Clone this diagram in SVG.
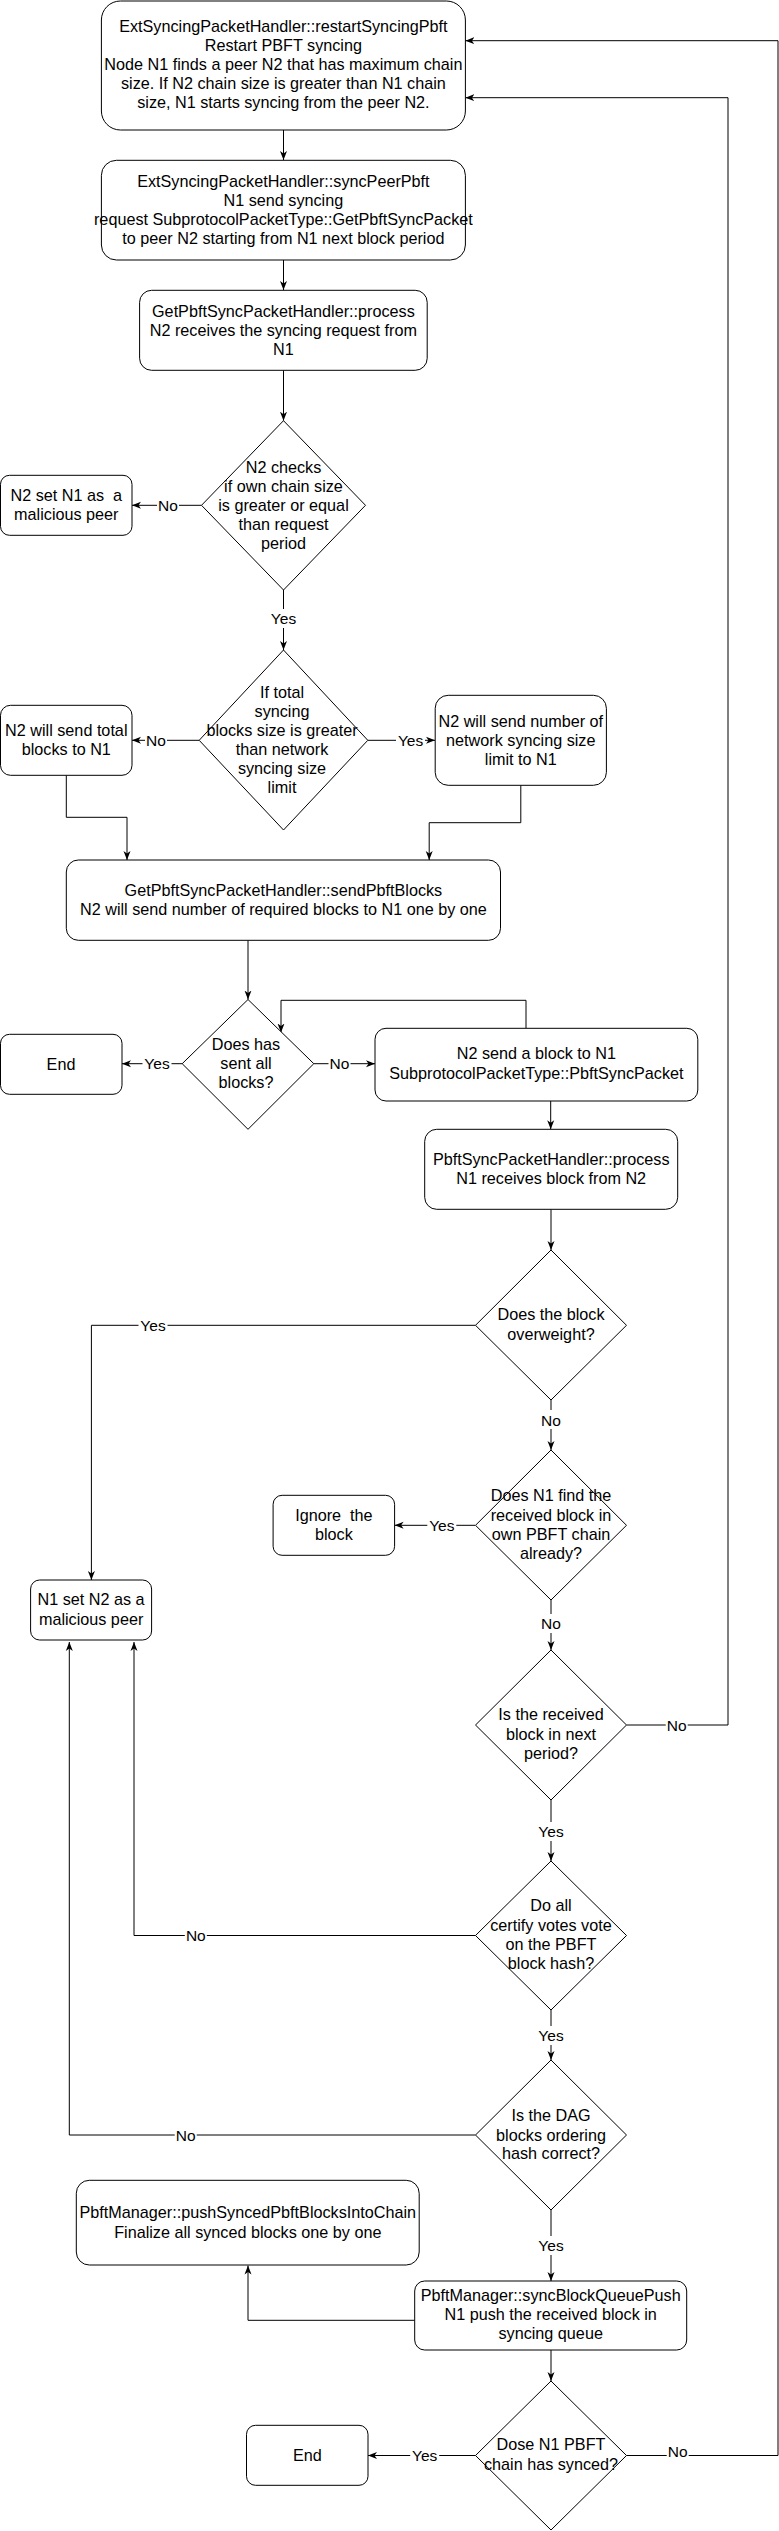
<svg xmlns="http://www.w3.org/2000/svg" width="779" height="2531" viewBox="0 0 779 2531">
<defs>
<marker id="arr" markerUnits="userSpaceOnUse" markerWidth="10" markerHeight="8" refX="9" refY="4" orient="auto">
<path d="M0,0.5 L9,4 L0,7.5 L2.5,4 Z" fill="#000"/>
</marker>
<style>
.n{fill:#fff;stroke:#000;stroke-width:1}
.t{font-family:"Liberation Sans",Arial,sans-serif;font-size:16.2px;fill:#000;text-anchor:middle;white-space:pre}
.c{fill:none;stroke:#000;stroke-width:1;marker-end:url(#arr)}
.lb{fill:#fff;stroke:none}
.l{font-family:"Liberation Sans",Arial,sans-serif;font-size:15.5px;fill:#000;text-anchor:middle}
</style>
</defs>
<rect width="779" height="2531" fill="#fff"/>
<g id="connectors">
<path class="c" d="M283.5,130 V160"/>
<path class="c" d="M283.5,260 V290"/>
<path class="c" d="M283.5,370.3 V420.7"/>
<path class="c" d="M201.5,505.3 H132"/>
<path class="c" d="M283.5,590 V650"/>
<path class="c" d="M199.2,740.3 H132"/>
<path class="c" d="M367.8,740.3 H435"/>
<path class="c" d="M66.3,775.3 V817.3 H127 V860"/>
<path class="c" d="M520.8,785.3 V822.7 H429.2 V860"/>
<path class="c" d="M248,940.3 V999.5"/>
<path class="c" d="M182.2,1063.7 H122"/>
<path class="c" d="M313.8,1063.7 H375"/>
<path class="c" d="M526,1028.3 V1000.3 H281 V1032.5"/>
<path class="c" d="M550.7,1101 V1129.3"/>
<path class="c" d="M551,1209.3 V1250"/>
<path class="c" d="M475.5,1325.3 H91.4 V1580"/>
<path class="c" d="M551,1400 V1450"/>
<path class="c" d="M475.5,1525.3 H394.6"/>
<path class="c" d="M551,1600 V1650"/>
<path class="c" d="M626.5,1725 H728 V97.7 H465.4"/>
<path class="c" d="M551,1800 V1861"/>
<path class="c" d="M475.5,1935.5 H134 V1642"/>
<path class="c" d="M551,2010 V2060"/>
<path class="c" d="M475.5,2135 H69.3 V1642"/>
<path class="c" d="M551,2210 V2281"/>
<path class="c" d="M414.7,2320.3 H248 V2265.5"/>
<path class="c" d="M551,2350 V2381"/>
<path class="c" d="M475.5,2455.5 H368"/>
<path class="c" d="M626.5,2455.5 H778 V40.7 H465.4"/>
<g id="labels">
<rect class="lb" x="157" y="496" width="22" height="19"/><text class="l" x="168" y="510.8">No</text>
<rect class="lb" x="269" y="609" width="29" height="19"/><text class="l" x="283.5" y="624">Yes</text>
<rect class="lb" x="145" y="731" width="22" height="19"/><text class="l" x="156" y="745.8">No</text>
<rect class="lb" x="396" y="731" width="29" height="19"/><text class="l" x="410.6" y="745.8">Yes</text>
<rect class="lb" x="142.5" y="1054" width="29" height="19"/><text class="l" x="157" y="1069.2">Yes</text>
<rect class="lb" x="328.5" y="1054" width="22" height="19"/><text class="l" x="339.4" y="1069.2">No</text>
<rect class="lb" x="138.5" y="1316" width="29" height="19"/><text class="l" x="153" y="1330.8">Yes</text>
<rect class="lb" x="540" y="1410" width="22" height="19"/><text class="l" x="551" y="1425.5">No</text>
<rect class="lb" x="427.3" y="1516" width="29" height="19"/><text class="l" x="441.8" y="1530.8">Yes</text>
<rect class="lb" x="540" y="1614" width="22" height="19"/><text class="l" x="551" y="1628.8">No</text>
<rect class="lb" x="665.7" y="1716" width="22" height="19"/><text class="l" x="676.7" y="1730.8">No</text>
<rect class="lb" x="536.5" y="1822" width="29" height="19"/><text class="l" x="551" y="1837.2">Yes</text>
<rect class="lb" x="184.8" y="1926" width="22" height="19"/><text class="l" x="195.8" y="1940.8">No</text>
<rect class="lb" x="536.5" y="2026" width="29" height="19"/><text class="l" x="551" y="2040.8">Yes</text>
<rect class="lb" x="174.7" y="2126" width="22" height="19"/><text class="l" x="185.7" y="2140.5">No</text>
<rect class="lb" x="536.5" y="2236" width="29" height="19"/><text class="l" x="551" y="2251.2">Yes</text>
<rect class="lb" x="410.2" y="2446" width="29" height="19"/><text class="l" x="424.7" y="2460.8">Yes</text>
<rect class="lb" x="666.7" y="2442" width="22" height="19"/><text class="l" x="677.7" y="2456.5">No</text>
</g>
</g>
<g id="restartSyncing">
<rect class="n" x="101.4" y="1" width="364" height="129" rx="19"/>
<text class="t" x="283.4" y="32.3">ExtSyncingPacketHandler::restartSyncingPbft</text>
<text class="t" x="283.4" y="51.3">Restart PBFT syncing</text>
<text class="t" x="283.4" y="70.3">Node N1 finds a peer N2 that has maximum chain</text>
<text class="t" x="283.4" y="89.3">size. If N2 chain size is greater than N1 chain</text>
<text class="t" x="283.4" y="108.3">size, N1 starts syncing from the peer N2.</text>
</g>
<g id="syncPeer">
<rect class="n" x="101.4" y="160.3" width="364" height="99.7" rx="15"/>
<text class="t" x="283.4" y="186.8">ExtSyncingPacketHandler::syncPeerPbft</text>
<text class="t" x="283.4" y="205.8">N1 send syncing</text>
<text class="t" x="283.4" y="224.8">request SubprotocolPacketType::GetPbftSyncPacket</text>
<text class="t" x="283.4" y="243.8">to peer N2 starting from N1 next block period</text>
</g>
<g id="getProcess">
<rect class="n" x="139.6" y="290.3" width="287.6" height="80" rx="12"/>
<text class="t" x="283.4" y="316.8">GetPbftSyncPacketHandler::process</text>
<text class="t" x="283.4" y="335.8">N2 receives the syncing request from</text>
<text class="t" x="283.4" y="354.8">N1</text>
</g>
<g id="checkChainSize">
<polygon class="n" points="283.5,420.7 365.5,505.3 283.5,590 201.5,505.3"/>
<text class="t" x="283.5" y="472.8">N2 checks</text>
<text class="t" x="283.5" y="491.8">if own chain size</text>
<text class="t" x="283.5" y="510.8">is greater or equal</text>
<text class="t" x="283.5" y="529.8">than request</text>
<text class="t" x="283.5" y="548.8">period</text>
</g>
<g id="n2Malicious">
<rect class="n" x="0.5" y="475.3" width="131.5" height="60" rx="9"/>
<text class="t" x="66.3" y="500.8">N2 set N1 as  a</text>
<text class="t" x="66.3" y="520.3">malicious peer</text>
</g>
<g id="checkLimit">
<polygon class="n" points="283.5,650 367.8,740.3 283.5,830 199.2,740.3"/>
<text class="t" x="282" y="697.8">If total</text>
<text class="t" x="282" y="716.8">syncing</text>
<text class="t" x="282" y="735.8">blocks size is greater</text>
<text class="t" x="282" y="754.8">than network</text>
<text class="t" x="282" y="773.8">syncing size</text>
<text class="t" x="282" y="792.8">limit</text>
</g>
<g id="sendTotal">
<rect class="n" x="0.5" y="705.3" width="131.5" height="70" rx="10"/>
<text class="t" x="66.3" y="735.8">N2 will send total</text>
<text class="t" x="66.3" y="754.8">blocks to N1</text>
</g>
<g id="sendLimit">
<rect class="n" x="435.2" y="695.3" width="171.2" height="90" rx="13"/>
<text class="t" x="520.8" y="726.8">N2 will send number of</text>
<text class="t" x="520.8" y="745.8">network syncing size</text>
<text class="t" x="520.8" y="764.8">limit to N1</text>
</g>
<g id="sendPbftBlocks">
<rect class="n" x="66.3" y="860" width="434.2" height="80.3" rx="12"/>
<text class="t" x="283.4" y="895.8">GetPbftSyncPacketHandler::sendPbftBlocks</text>
<text class="t" x="283.4" y="914.8">N2 will send number of required blocks to N1 one by one</text>
</g>
<g id="sentAll">
<polygon class="n" points="248,999.5 313.8,1063.7 248,1129.3 182.2,1063.7"/>
<text class="t" x="246" y="1050.3">Does has</text>
<text class="t" x="246" y="1069.3">sent all</text>
<text class="t" x="246" y="1088.3">blocks?</text>
</g>
<g id="end1">
<rect class="n" x="0.5" y="1034.3" width="121.5" height="60" rx="9"/>
<text class="t" x="61" y="1069.8">End</text>
</g>
<g id="sendBlock">
<rect class="n" x="375" y="1028.3" width="322.8" height="72.7" rx="11"/>
<text class="t" x="536.4" y="1059.3">N2 send a block to N1</text>
<text class="t" x="536.4" y="1078.8">SubprotocolPacketType::PbftSyncPacket</text>
</g>
<g id="pbftSyncProcess">
<rect class="n" x="424.7" y="1129.3" width="253" height="80" rx="12"/>
<text class="t" x="551.2" y="1164.6">PbftSyncPacketHandler::process</text>
<text class="t" x="551.2" y="1184.1">N1 receives block from N2</text>
</g>
<g id="overweight">
<polygon class="n" points="551,1250 626.5,1325.3 551,1400 475.5,1325.3"/>
<text class="t" x="551" y="1320.3">Does the block</text>
<text class="t" x="551" y="1339.8">overweight?</text>
</g>
<g id="findInChain">
<polygon class="n" points="551,1450 626.5,1525.3 551,1600 475.5,1525.3"/>
<text class="t" x="551" y="1501.3">Does N1 find the</text>
<text class="t" x="551" y="1520.8">received block in</text>
<text class="t" x="551" y="1539.8">own PBFT chain</text>
<text class="t" x="551" y="1559.3">already?</text>
</g>
<g id="ignoreBlock">
<rect class="n" x="273.1" y="1495.3" width="121.5" height="60" rx="9"/>
<text class="t" x="333.9" y="1520.8">Ignore  the</text>
<text class="t" x="333.9" y="1540.3">block</text>
</g>
<g id="n1Malicious">
<rect class="n" x="30.6" y="1580" width="121" height="60" rx="9"/>
<text class="t" x="91.1" y="1605.3">N1 set N2 as a</text>
<text class="t" x="91.1" y="1624.8">malicious peer</text>
</g>
<g id="nextPeriod">
<polygon class="n" points="551,1650 626.5,1725 551,1800 475.5,1725"/>
<text class="t" x="551" y="1720.3">Is the received</text>
<text class="t" x="551" y="1739.8">block in next</text>
<text class="t" x="551" y="1758.8">period?</text>
</g>
<g id="certifyVotes">
<polygon class="n" points="551,1861 626.5,1935.5 551,2010 475.5,1935.5"/>
<text class="t" x="551" y="1911.3">Do all</text>
<text class="t" x="551" y="1930.8">certify votes vote</text>
<text class="t" x="551" y="1950.3">on the PBFT</text>
<text class="t" x="551" y="1969.3">block hash?</text>
</g>
<g id="dagOrdering">
<polygon class="n" points="551,2060 626.5,2135 551,2210 475.5,2135"/>
<text class="t" x="551" y="2121.3">Is the DAG</text>
<text class="t" x="551" y="2140.8">blocks ordering</text>
<text class="t" x="551" y="2159.3">hash correct?</text>
</g>
<g id="pushSynced">
<rect class="n" x="76.3" y="2180.3" width="342.9" height="84.7" rx="13"/>
<text class="t" x="247.8" y="2218.3">PbftManager::pushSyncedPbftBlocksIntoChain</text>
<text class="t" x="247.8" y="2238.3">Finalize all synced blocks one by one</text>
</g>
<g id="syncBlockQueuePush">
<rect class="n" x="414.7" y="2281" width="272" height="69" rx="10"/>
<text class="t" x="550.7" y="2300.8">PbftManager::syncBlockQueuePush</text>
<text class="t" x="550.7" y="2319.8">N1 push the received block in</text>
<text class="t" x="550.7" y="2338.8">syncing queue</text>
</g>
<g id="chainSynced">
<polygon class="n" points="551,2381 626.5,2455.5 551,2530 475.5,2455.5"/>
<text class="t" x="551" y="2450.3">Dose N1 PBFT</text>
<text class="t" x="551" y="2470.3">chain has synced?</text>
</g>
<g id="end2">
<rect class="n" x="246.5" y="2425.3" width="121.5" height="60" rx="9"/>
<text class="t" x="307.3" y="2461.3">End</text>
</g>
</svg>
